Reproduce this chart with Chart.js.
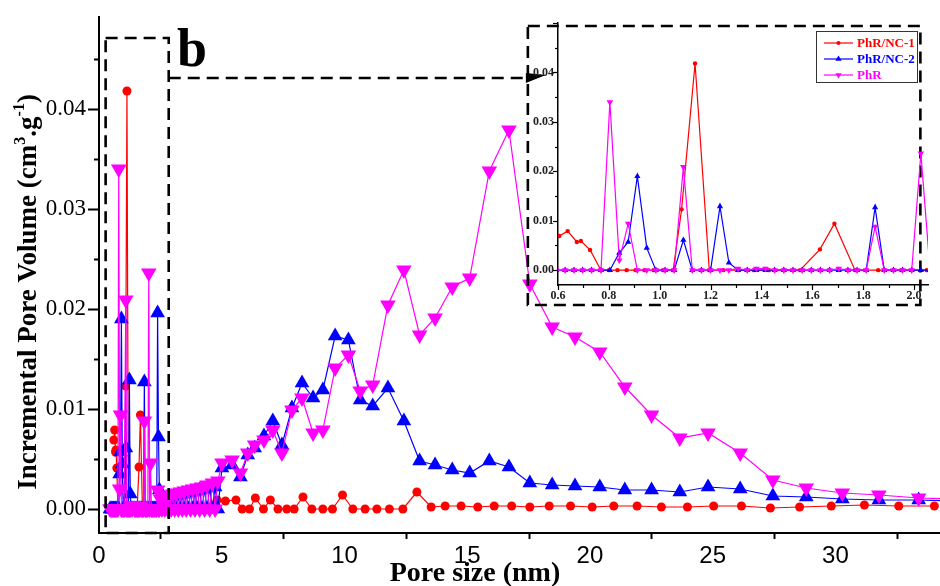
<!DOCTYPE html>
<html>
<head>
<meta charset="utf-8">
<script src="https://cdn.jsdelivr.net/npm/chart.js@4.4.0/dist/chart.umd.min.js"></script>
<style>
  html, body { margin: 0; padding: 0; background: #fff; }
  #wrap { position: relative; width: 940px; height: 586px; overflow: hidden; }
  #wrap canvas { position: absolute; left: 0; top: 0; }
</style>
</head>
<body>
<div id="wrap">
  <canvas id="main" width="950" height="586"></canvas>
  <canvas id="inset" width="940" height="586"></canvas>
</div>
<script>
// ── Data (pore width in nm, incremental pore volume in cm3/g) ─────────
const seriesNames = ['PhR/NC-1', 'PhR/NC-2', 'PhR'];
const seriesColors = ['#ff0000', '#0000ff', '#ff00ff'];

// PhR/NC-1 has its own width grid
const poreA = [0.605, 0.638, 0.674, 0.690, 0.726, 0.769, 0.801, 0.834, 0.870, 0.905,
  0.940, 0.976, 1.013, 1.053, 1.086, 1.139, 1.195, 1.25, 1.31, 1.37,
  1.43, 1.49, 1.552, 1.630, 1.687, 1.768, 1.859, 1.95, 2.05, 2.16,
  2.28, 2.41, 2.55, 2.70, 2.86, 3.03, 3.21, 3.40, 3.60, 3.81,
  4.03, 4.30, 4.55, 4.81, 5.15, 5.58, 5.83, 6.13, 6.37, 6.70,
  6.98, 7.29, 7.65, 7.95, 8.31, 8.67, 9.12, 9.51, 9.92, 10.34,
  10.84, 11.32, 11.83, 12.38, 12.95, 13.53, 14.10, 14.75, 15.43, 16.10,
  16.81, 17.55, 18.34, 19.21, 20.09, 20.97, 21.92, 22.91, 23.97, 25.04,
  26.17, 27.35, 28.54, 29.83, 31.18, 32.58, 34.03];
const volNC1 = [0.0069, 0.0079, 0.0057, 0.0059, 0.0041, 0, 0, 0, 0, 0,
  0, 0, 0, 0, 0.0123, 0.0418, 0, 0, 0, 0,
  0, 0, 0, 0.0042, 0.0094, 0, 0, 0, 0, 0,
  0, 0, 0, 0, 0, 0, 0, 0, 0, 0,
  0, 0, 0, 0.0009, 0.0008, 0.0009, 0, 0, 0.0011, 0,
  0.0009, 0, 0, 0, 0.0012, 0, 0, 0, 0.0014, 0,
  0, 0, 0, 0, 0.0017, 0.0002, 0.0003, 0.0003, 0.0002, 0.0003,
  0.0003, 0.0002, 0.0003, 0.0003, 0.0002, 0.0003, 0.0003, 0.0002, 0.0002, 0.0003,
  0.0003, 0.0001, 0.0002, 0.0003, 0.0004, 0.0003, 0.0003];

// PhR/NC-2 and PhR share one width grid
const poreB = [0.449, 0.485, 0.520, 0.556, 0.592, 0.628, 0.663, 0.697, 0.732, 0.769,
  0.804, 0.841, 0.876, 0.912, 0.949, 0.985, 1.021, 1.057, 1.093, 1.128,
  1.164, 1.200, 1.237, 1.272, 1.308, 1.344, 1.380, 1.416, 1.452, 1.488,
  1.524, 1.560, 1.596, 1.632, 1.668, 1.704, 1.740, 1.776, 1.812, 1.847,
  1.883, 1.919, 1.955, 1.991, 2.027, 2.063, 2.099, 2.135, 2.171, 2.207,
  2.243, 2.279, 2.315, 2.351, 2.387, 2.423, 2.459, 2.50, 2.56, 2.62,
  2.68, 2.74, 2.80, 2.87, 2.94, 3.01, 3.08, 3.15, 3.23, 3.31,
  3.39, 3.47, 3.55, 3.64, 3.73, 3.82, 3.91, 4.00, 4.10, 4.20,
  4.30, 4.40, 4.51, 4.62, 4.73, 4.84, 5.01, 5.42, 5.76, 6.06,
  6.34, 6.72, 7.08, 7.45, 7.86, 8.27, 8.72, 9.12, 9.62, 10.16,
  10.64, 11.15, 11.77, 12.42, 13.06, 13.69, 14.39, 15.10, 15.90, 16.70,
  17.55, 18.46, 19.39, 20.40, 21.42, 22.51, 23.66, 24.81, 26.12, 27.45,
  28.81, 30.28, 31.77, 33.39, 35.00];
const volNC2 = [0, 0, 0, 0, 0, 0, 0, 0, 0, 0,
  0, 0.0035, 0.0057, 0.0190, 0.0045, 0, 0, 0, 0.0061, 0,
  0, 0, 0.0129, 0.0015, 0, 0, 0, 0, 0, 0,
  0, 0, 0, 0, 0, 0, 0, 0, 0, 0.0127,
  0, 0, 0, 0, 0, 0, 0, 0, 0, 0,
  0, 0, 0, 0, 0.0196, 0.0072, 0.0019, 0, 0.0008, 0,
  0.0010, 0, 0.0011, 0, 0.0012, 0, 0.0013, 0, 0.0014, 0,
  0.0015, 0, 0.0016, 0, 0.0017, 0, 0.0018, 0, 0.0019, 0,
  0.0020, 0, 0.0021, 0, 0.0022, 0, 0.0041, 0.0044, 0.0032, 0.0054,
  0.0061, 0.0073, 0.0088, 0.0064, 0.0101, 0.0126, 0.0111, 0.0119, 0.0173, 0.0169,
  0.0109, 0.0103, 0.0121, 0.0088, 0.0048, 0.0044, 0.0039, 0.0036, 0.0048, 0.0042,
  0.0026, 0.0024, 0.0023, 0.0022, 0.0019, 0.0019, 0.0017, 0.0022, 0.0020, 0.0013,
  0.0012, 0.0010, 0.0009, 0.0009, 0.0008];
const volPhR = [0, 0, 0, 0, 0, 0, 0, 0, 0, 0,
  0.0340, 0.0020, 0.0094, 0, 0, 0, 0, 0, 0.0209, 0,
  0, 0, 0, 0, 0.0003, 0, 0.0003, 0.0003, 0, 0,
  0, 0, 0, 0, 0, 0.0003, 0, 0, 0, 0.0088,
  0, 0, 0, 0, 0.0236, 0, 0.0046, 0, 0, 0,
  0, 0, 0, 0, 0.0019, 0, 0, 0.0010, 0, 0.0012,
  0, 0.0013, 0, 0.0014, 0, 0.0015, 0, 0.0016, 0, 0.0017,
  0, 0.0018, 0, 0.0019, 0, 0.0020, 0, 0.0021, 0, 0.0022,
  0, 0.0024, 0, 0.0026, 0, 0.0028, 0.0046, 0.0049, 0.0036, 0.0056,
  0.0064, 0.0069, 0.0079, 0.0056, 0.0099, 0.0111, 0.0076, 0.0079, 0.0141, 0.0154,
  0.0118, 0.0124, 0.0204, 0.0239, 0.0174, 0.0191, 0.0222, 0.0231, 0.0338, 0.0379,
  0.0225, 0.0182, 0.0172, 0.0157, 0.0122, 0.0094, 0.0071, 0.0076, 0.0056, 0.0029,
  0.0021, 0.0016, 0.0014, 0.0011, 0.0010];

const xTicksMain = [0, 5, 10, 15, 20, 25, 30];
const yTicksMain = [0, 0.01, 0.02, 0.03, 0.04];
const xTicksInset = [0.6, 0.8, 1.0, 1.2, 1.4, 1.6, 1.8, 2.0];
const yTicksInset = [0, 0.01, 0.02, 0.03, 0.04];

const SERIF = '"Liberation Serif", "Times New Roman", serif';
const SANS = '"Liberation Sans", Arial, sans-serif';

function pts(xs, ys) { return xs.map((x, i) => ({ x: x, y: ys[i] })); }

function makeDatasets(small) {
  const xsList = [poreA, poreB, poreB];
  const ysList = [volNC1, volNC2, volPhR];
  const styles = ['circle', 'triangle', 'triangle'];
  const radii = small ? [2.2, 3.6, 3.8] : [4.5, 8.5, 9];
  return seriesNames.map((name, i) => ({
    label: name,
    data: pts(xsList[i], ysList[i]),
    borderColor: seriesColors[i],
    backgroundColor: seriesColors[i],
    pointBackgroundColor: seriesColors[i],
    pointBorderColor: seriesColors[i],
    pointBorderWidth: 0,
    borderWidth: 1.2,
    pointStyle: styles[i],
    rotation: i === 2 ? 180 : 0,
    pointRadius: radii[i],
    pointHoverRadius: radii[i],
    tension: 0,
    order: 2 - i
  }));
}

// keep the plot area exactly where the layout puts it
function noPad(s) { s.paddingLeft = 0; s.paddingRight = 0; s.paddingTop = 0; s.paddingBottom = 0; }

// ── Extra ticks, titles and the dashed call-out drawn on the main chart ──
const mainDecor = {
  id: 'mainDecor',
  afterDraw(chart) {
    const ctx = chart.ctx;
    const xs = chart.scales.x, ys = chart.scales.y;
    const area = chart.chartArea;
    ctx.save();
    ctx.strokeStyle = '#000';
    ctx.lineWidth = 2;
    // y ticks: long at 0.01, short at 0.005
    for (let k = 0; k <= 9; k++) {
      const py = Math.round(ys.getPixelForValue(k * 0.005)) + 0.5;
      const len = k % 2 === 0 ? 11 : 5;
      ctx.beginPath(); ctx.moveTo(area.left - len, py); ctx.lineTo(area.left, py); ctx.stroke();
    }
    // x ticks only between labels
    for (let v = 2.5; v < xs.max; v += 5) {
      const px = Math.round(xs.getPixelForValue(v)) + 0.5;
      ctx.beginPath(); ctx.moveTo(px, area.bottom); ctx.lineTo(px, area.bottom + 6); ctx.stroke();
    }

    // axis titles
    ctx.fillStyle = '#000';
    ctx.font = 'bold 28px ' + SERIF;
    ctx.textAlign = 'center';
    ctx.textBaseline = 'alphabetic';
    ctx.fillText('Pore size (nm)', 475, 581);

    ctx.save();
    ctx.translate(36, 292);
    ctx.rotate(-Math.PI / 2);
    const parts = [
      ['Incremental Pore Volume (cm', 27, 0],
      ['3', 16, -11],
      ['.g', 27, 0],
      ['-1', 16, -12],
      [')', 27, 0]
    ];
    let total = 0;
    parts.forEach(p => { ctx.font = 'bold ' + p[1] + 'px ' + SERIF; total += ctx.measureText(p[0]).width; });
    let cx = -total / 2;
    ctx.textAlign = 'left';
    parts.forEach(p => {
      ctx.font = 'bold ' + p[1] + 'px ' + SERIF;
      ctx.fillText(p[0], cx, p[2]);
      cx += ctx.measureText(p[0]).width;
    });
    ctx.restore();

    // panel letter
    ctx.font = 'bold 54px ' + SERIF;
    ctx.textAlign = 'left';
    ctx.fillText('b', 177, 66);

    // dashed call-out: box round the micropore range, arrow to the inset
    ctx.setLineDash([12, 7]);
    ctx.lineWidth = 2.6;
    const bx0 = xs.getPixelForValue(0.27), bx1 = xs.getPixelForValue(2.84);
    const by0 = ys.getPixelForValue(0.0471), by1 = area.bottom;
    ctx.strokeRect(bx0, by0, bx1 - bx0, by1 - by0);
    const ay = ys.getPixelForValue(0.0431);
    const ix0 = xs.getPixelForValue(17.47), ix1 = xs.getPixelForValue(33.46);
    const iy0 = ys.getPixelForValue(0.0483), iy1 = ys.getPixelForValue(0.0204);
    ctx.beginPath(); ctx.moveTo(bx1, ay); ctx.lineTo(ix0 - 2, ay); ctx.stroke();
    ctx.strokeRect(ix0, iy0, ix1 - ix0, iy1 - iy0);
    ctx.setLineDash([]);
    // arrow head
    ctx.beginPath();
    ctx.moveTo(ix0 + 18, ay - 3);
    ctx.lineTo(ix0 - 2, ay - 5);
    ctx.lineTo(ix0 - 2, ay + 5);
    ctx.closePath();
    ctx.fill();
    ctx.restore();
  }
};

// ── Minor ticks and legend box of the inset ──────────────────────────────
const insetDecor = {
  id: 'insetDecor',
  afterDraw(chart) {
    const ctx = chart.ctx;
    const xs = chart.scales.x, ys = chart.scales.y;
    const area = chart.chartArea;
    ctx.save();
    ctx.strokeStyle = '#000';
    ctx.lineWidth = 1.2;
    for (let k = 0; k <= 10; k++) {
      const py = Math.round(ys.getPixelForValue(k * 0.005)) + 0.5;
      const len = k % 2 === 0 ? 5 : 3;
      ctx.beginPath(); ctx.moveTo(area.left - len, py); ctx.lineTo(area.left, py); ctx.stroke();
    }
    for (let k = 0; k <= 14; k++) {
      const v = 0.6 + k * 0.1;
      if (v > xs.max) break;
      const px = Math.round(xs.getPixelForValue(v)) + 0.5;
      const len = k % 2 === 0 ? 5 : 3;
      ctx.beginPath(); ctx.moveTo(px, area.bottom); ctx.lineTo(px, area.bottom + len); ctx.stroke();
    }

    // legend
    const lx = 816, ly = 31, lw = 101, lh = 51;
    ctx.fillStyle = '#fff';
    ctx.fillRect(lx, ly, lw, lh);
    ctx.strokeStyle = '#333';
    ctx.lineWidth = 1;
    ctx.strokeRect(lx + 0.5, ly + 0.5, lw, lh);
    chart.data.datasets.forEach((ds, i) => {
      const y = ly + 12 + i * 16;
      ctx.strokeStyle = ds.borderColor;
      ctx.lineWidth = 1.2;
      ctx.beginPath(); ctx.moveTo(lx + 8, y); ctx.lineTo(lx + 37, y); ctx.stroke();
      ctx.fillStyle = ds.borderColor;
      Chart.helpers.drawPoint(ctx, {
        pointStyle: ds.pointStyle, rotation: ds.rotation,
        radius: i === 0 ? 2 : 3.6, borderWidth: 0
      }, lx + 22.5, y);
      ctx.font = 'bold 13px ' + SERIF;
      ctx.textAlign = 'left';
      ctx.textBaseline = 'middle';
      ctx.fillText(ds.label, lx + 41, y + 1);
    });
    ctx.restore();
  }
};

Chart.defaults.animation = false;
Chart.defaults.font.family = SERIF;

// main canvas is 10px wider than the page: Chart.js keeps that much room for the
// point overflow on the right, so the plot area still ends at the page edge
new Chart(document.getElementById('main'), {
  type: 'line',
  data: { datasets: makeDatasets(false) },
  options: {
    responsive: false,
    animation: false,
    layout: { padding: { left: 0, right: 0, top: 17, bottom: 0 } },
    plugins: { legend: { display: false }, tooltip: { enabled: false } },
    scales: {
      x: {
        type: 'linear',
        min: 0, max: 34.3,
        afterFit: s => { s.height = 53; noPad(s); },
        border: { display: true, color: '#000', width: 2 },
        grid: { display: false, drawTicks: false },
        afterBuildTicks: s => { s.ticks = xTicksMain.map(v => ({ value: v })); },
        ticks: { color: '#000', font: { family: SANS, size: 24 }, padding: 9, maxRotation: 0 }
      },
      y: {
        type: 'linear',
        min: -0.0024, max: 0.0492,
        afterFit: s => { s.width = 99; noPad(s); },
        border: { display: true, color: '#000', width: 2 },
        grid: { display: false, drawTicks: false },
        afterBuildTicks: s => { s.ticks = yTicksMain.map(v => ({ value: v })); },
        ticks: { color: '#000', font: { family: SERIF, size: 23 }, padding: 13,
          callback: v => v.toFixed(2) }
      }
    }
  },
  plugins: [mainDecor]
});

new Chart(document.getElementById('inset'), {
  type: 'line',
  data: { datasets: makeDatasets(true) },
  options: {
    responsive: false,
    animation: false,
    layout: { padding: { left: 520, right: 12, top: 23, bottom: 281 } },
    plugins: { legend: { display: false }, tooltip: { enabled: false } },
    scales: {
      x: {
        type: 'linear',
        min: 0.6, max: 2.055,
        afterFit: s => { s.height = 20; noPad(s); },
        border: { display: true, color: '#000', width: 1.5 },
        grid: { display: false, drawTicks: false },
        afterBuildTicks: s => { s.ticks = xTicksInset.map(v => ({ value: v })); },
        ticks: { color: '#222', font: { family: SERIF, size: 12, weight: 'bold' }, padding: 4,
          maxRotation: 0, callback: v => v.toFixed(1) }
      },
      y: {
        type: 'linear',
        min: -0.003, max: 0.05,
        afterFit: s => { s.width = 38; noPad(s); },
        border: { display: true, color: '#000', width: 1.5 },
        grid: { display: false, drawTicks: false },
        afterBuildTicks: s => { s.ticks = yTicksInset.map(v => ({ value: v })); },
        ticks: { color: '#222', font: { family: SERIF, size: 12, weight: 'bold' }, padding: 4,
          callback: v => v.toFixed(2) }
      }
    }
  },
  plugins: [insetDecor]
});
</script>
</body>
</html>
